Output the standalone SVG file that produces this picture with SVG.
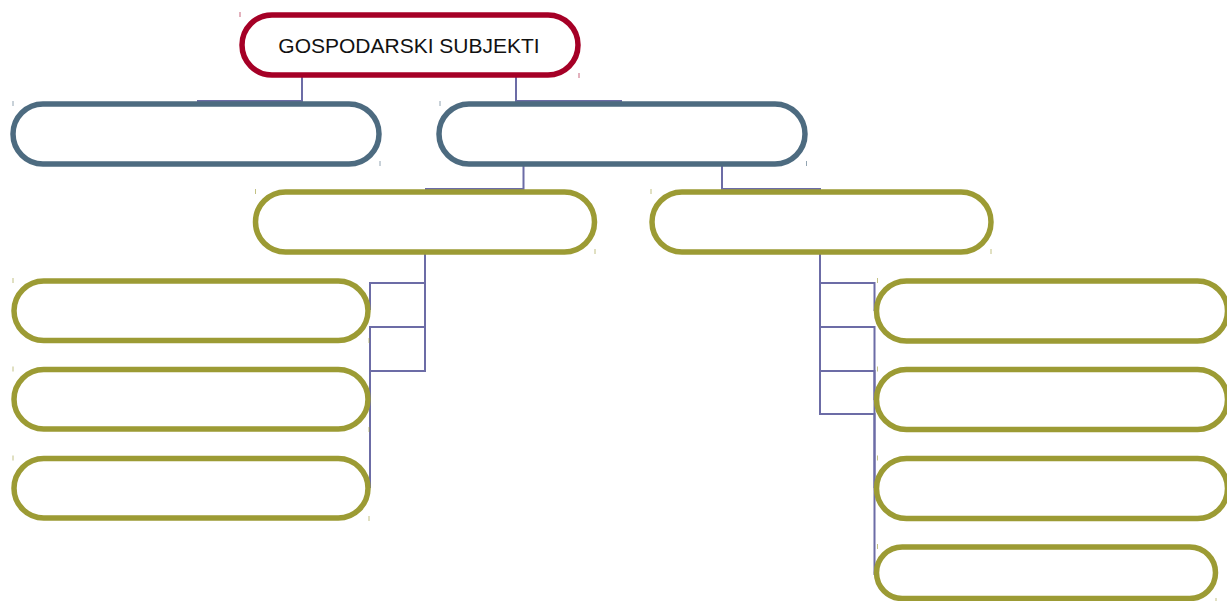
<svg xmlns="http://www.w3.org/2000/svg" width="1227" height="601" viewBox="0 0 1227 601">
<style>
.n{fill:#fff;stroke-width:5.5}
.red{stroke:#A50026}
.blue{stroke:#4D6B80}
.olive{stroke:#9C9B34}
.t{stroke-width:1;opacity:0.6}
.c{fill:none;stroke:#6C6CA6;stroke-width:2}
.lbl{font-family:"Liberation Sans",Arial,sans-serif;font-size:21px;fill:#111;text-anchor:middle}
</style>
<rect width="1227" height="601" fill="#fff"/>
<g id="connectors">
<path class="c" d="M302,77V101H197"/>
<path class="c" d="M516,77V101H622"/>
<path class="c" d="M523.5,166V189H425"/>
<path class="c" d="M722,166V189H821"/>
<path class="c" d="M425,254V283H370V310"/>
<path class="c" d="M425,254V327H370V399"/>
<path class="c" d="M425,254V371H370V488"/>
<path class="c" d="M820,254V283H874.5V311"/>
<path class="c" d="M820,254V327H874.5V400"/>
<path class="c" d="M820,254V371H874.5V488"/>
<path class="c" d="M820,254V414H874.5V575"/>
</g>
<g id="root">
<rect class="n red" x="242" y="15" width="336" height="60" rx="30"/>
<line class="t red" x1="240" y1="12" x2="240" y2="17"/>
<line class="t red" x1="579" y1="73" x2="579" y2="78"/>
<text class="lbl" x="409" y="53">GOSPODARSKI SUBJEKTI</text>
</g>
<g id="n-blue-left">
<rect class="n blue" x="13" y="104" width="366" height="60" rx="30"/>
<line class="t blue" x1="13" y1="101" x2="13" y2="106"/>
<line class="t blue" x1="380" y1="161" x2="380" y2="166"/>
</g>
<g id="n-blue-right">
<rect class="n blue" x="439" y="104" width="366" height="60" rx="30"/>
<line class="t blue" x1="440" y1="101" x2="440" y2="106"/>
<line class="t blue" x1="806.5" y1="161" x2="806.5" y2="166"/>
</g>
<g id="n-olive-mid-left">
<rect class="n olive" x="255.5" y="192" width="339" height="60" rx="30"/>
<line class="t olive" x1="255.5" y1="189" x2="255.5" y2="194"/>
<line class="t olive" x1="595" y1="249" x2="595" y2="254"/>
</g>
<g id="n-olive-mid-right">
<rect class="n olive" x="652" y="192" width="339" height="60" rx="30"/>
<line class="t olive" x1="651" y1="189" x2="651" y2="194"/>
<line class="t olive" x1="991" y1="249" x2="991" y2="254"/>
</g>
<g id="n-left-1">
<rect class="n olive" x="14" y="281" width="354" height="59.5" rx="29.75"/>
<line class="t olive" x1="13" y1="278" x2="13" y2="283"/>
<line class="t olive" x1="369" y1="338" x2="369" y2="343"/>
</g>
<g id="n-left-2">
<rect class="n olive" x="14" y="369.5" width="354" height="59.5" rx="29.75"/>
<line class="t olive" x1="13" y1="366.5" x2="13" y2="371.5"/>
<line class="t olive" x1="369" y1="427" x2="369" y2="432"/>
</g>
<g id="n-left-3">
<rect class="n olive" x="14" y="458.5" width="354" height="59.5" rx="29.75"/>
<line class="t olive" x1="13" y1="455.5" x2="13" y2="460.5"/>
<line class="t olive" x1="369" y1="516" x2="369" y2="521"/>
</g>
<g id="n-right-1">
<rect class="n olive" x="876.5" y="281" width="351" height="60" rx="30"/>
<line class="t olive" x1="877.5" y1="278" x2="877.5" y2="283"/>
</g>
<g id="n-right-2">
<rect class="n olive" x="876.5" y="369.5" width="351" height="60" rx="30"/>
<line class="t olive" x1="877.5" y1="366.5" x2="877.5" y2="371.5"/>
</g>
<g id="n-right-3">
<rect class="n olive" x="876.5" y="458.5" width="351" height="60" rx="30"/>
<line class="t olive" x1="877.5" y1="455.5" x2="877.5" y2="460.5"/>
</g>
<g id="n-right-4">
<rect class="n olive" x="876.5" y="547" width="339" height="51.5" rx="25.75"/>
<line class="t olive" x1="877.5" y1="544" x2="877.5" y2="549"/>
<line class="t olive" x1="1216" y1="598" x2="1216" y2="601"/>
</g>
</svg>
